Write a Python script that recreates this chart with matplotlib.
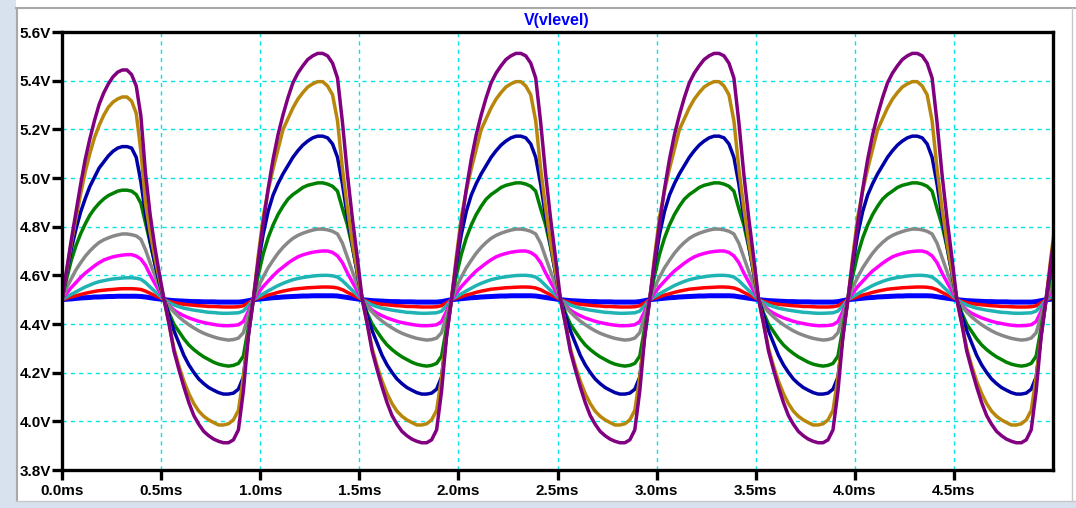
import numpy as np
import matplotlib
matplotlib.use("Agg")
import matplotlib.pyplot as plt
from matplotlib.patches import Rectangle
from matplotlib.lines import Line2D

# first positive half-cycle, 0 .. 0.515 ms (23 samples)
# steady-state cycle, 40 samples at 0.025 ms, starting at the rising crossing
purple_first = [4.500, 4.623, 4.745, 4.859, 4.972, 5.076, 5.161, 5.236, 5.302, 5.350, 5.387, 5.416,
                5.435, 5.444, 5.444, 5.425, 5.378, 5.255, 5.019, 4.849, 4.717, 4.604, 4.500]
purple_cycle = [4.500, 4.662, 4.814, 4.955, 5.077, 5.178, 5.259, 5.330, 5.391, 5.431, 5.461, 5.487,
                5.502, 5.512, 5.512, 5.502, 5.472, 5.411, 5.229, 5.016, 4.834, 4.672,
                4.500, 4.400, 4.288, 4.212, 4.141, 4.077, 4.024, 3.988, 3.959, 3.941, 3.927, 3.918,
                3.912, 3.912, 3.924, 3.965, 4.124, 4.347]

gold_first = [4.500, 4.617, 4.733, 4.833, 4.933, 5.025, 5.100, 5.166, 5.216, 5.258, 5.291, 5.312,
              5.325, 5.333, 5.333, 5.316, 5.266, 5.110, 4.895, 4.775, 4.675, 4.583, 4.500]
gold_cycle = [4.500, 4.679, 4.840, 4.948, 5.038, 5.118, 5.199, 5.244, 5.288, 5.324, 5.351, 5.374,
              5.387, 5.396, 5.396, 5.378, 5.342, 5.235, 5.038, 4.876, 4.733, 4.616,
              4.500, 4.402, 4.299, 4.227, 4.165, 4.114, 4.073, 4.042, 4.021, 4.006, 3.995, 3.985,
              3.985, 3.990, 4.006, 4.045, 4.181, 4.356]

navy_first = [4.500, 4.607, 4.708, 4.789, 4.859, 4.915, 4.965, 5.003, 5.041, 5.066, 5.091, 5.110,
              5.123, 5.129, 5.129, 5.123, 5.085, 4.985, 4.850, 4.739, 4.651, 4.569, 4.500]
navy_cycle = [4.500, 4.648, 4.769, 4.863, 4.930, 4.977, 5.017, 5.051, 5.085, 5.112, 5.135, 5.152,
              5.165, 5.172, 5.172, 5.165, 5.140, 5.085, 4.975, 4.840, 4.722, 4.608,
              4.500, 4.434, 4.372, 4.322, 4.271, 4.232, 4.201, 4.174, 4.155, 4.139, 4.128, 4.118,
              4.112, 4.112, 4.116, 4.132, 4.182, 4.353]

green_first = [4.500, 4.586, 4.662, 4.721, 4.770, 4.811, 4.847, 4.874, 4.896, 4.914, 4.928, 4.937,
               4.946, 4.950, 4.950, 4.946, 4.932, 4.896, 4.815, 4.734, 4.649, 4.568, 4.500]
green_cycle = [4.500, 4.601, 4.687, 4.754, 4.807, 4.850, 4.884, 4.913, 4.932, 4.946, 4.961, 4.970,
               4.975, 4.980, 4.980, 4.975, 4.966, 4.946, 4.874, 4.807, 4.716, 4.610,
               4.500, 4.445, 4.399, 4.369, 4.339, 4.314, 4.295, 4.279, 4.265, 4.254, 4.243, 4.235,
               4.230, 4.227, 4.230, 4.238, 4.268, 4.383]

gray_first = [4.500, 4.549, 4.586, 4.622, 4.651, 4.678, 4.700, 4.719, 4.735, 4.746, 4.754, 4.761,
              4.766, 4.770, 4.770, 4.767, 4.762, 4.748, 4.705, 4.651, 4.600, 4.549, 4.500]
gray_cycle = [4.500, 4.552, 4.593, 4.631, 4.662, 4.691, 4.715, 4.735, 4.752, 4.764, 4.773, 4.780,
              4.786, 4.790, 4.790, 4.787, 4.781, 4.770, 4.732, 4.674, 4.616, 4.558,
              4.500, 4.473, 4.449, 4.429, 4.412, 4.397, 4.384, 4.372, 4.362, 4.354, 4.347, 4.341,
              4.337, 4.334, 4.336, 4.342, 4.364, 4.434]

magenta_first = [4.500, 4.526, 4.550, 4.570, 4.591, 4.609, 4.624, 4.639, 4.652, 4.663, 4.670, 4.676,
                 4.680, 4.683, 4.685, 4.685, 4.679, 4.667, 4.641, 4.602, 4.567, 4.533, 4.500]
magenta_cycle = [4.500, 4.528, 4.554, 4.576, 4.598, 4.618, 4.634, 4.650, 4.664, 4.676, 4.684, 4.690,
                 4.695, 4.698, 4.700, 4.700, 4.694, 4.680, 4.652, 4.610, 4.572, 4.536,
                 4.500, 4.476, 4.457, 4.444, 4.434, 4.425, 4.418, 4.411, 4.406, 4.402, 4.398, 4.395,
                 4.393, 4.393, 4.394, 4.397, 4.410, 4.452]

teal_first = [4.500, 4.511, 4.522, 4.532, 4.542, 4.552, 4.560, 4.568, 4.574, 4.578, 4.582, 4.585,
              4.587, 4.589, 4.590, 4.590, 4.588, 4.584, 4.570, 4.552, 4.534, 4.517, 4.500]
teal_cycle = [4.500, 4.512, 4.524, 4.536, 4.547, 4.558, 4.567, 4.575, 4.582, 4.587, 4.591, 4.594,
              4.597, 4.599, 4.600, 4.600, 4.598, 4.593, 4.578, 4.558, 4.538, 4.519,
              4.500, 4.488, 4.478, 4.471, 4.465, 4.461, 4.457, 4.454, 4.451, 4.448, 4.447, 4.445,
              4.444, 4.444, 4.445, 4.446, 4.453, 4.475]

red_first = [4.500, 4.505, 4.511, 4.516, 4.521, 4.526, 4.530, 4.534, 4.537, 4.539, 4.541, 4.542,
             4.544, 4.545, 4.545, 4.545, 4.544, 4.542, 4.535, 4.526, 4.517, 4.509, 4.500]
red_cycle = [4.500, 4.506, 4.512, 4.519, 4.524, 4.530, 4.535, 4.539, 4.543, 4.545, 4.547, 4.549,
             4.550, 4.551, 4.552, 4.552, 4.551, 4.548, 4.541, 4.530, 4.520, 4.510,
             4.500, 4.493, 4.488, 4.484, 4.481, 4.479, 4.477, 4.475, 4.474, 4.472, 4.472, 4.471,
             4.470, 4.470, 4.470, 4.471, 4.475, 4.487]

blue_first = [4.500, 4.502, 4.503, 4.505, 4.507, 4.508, 4.509, 4.511, 4.511, 4.512, 4.513, 4.513,
              4.514, 4.514, 4.514, 4.514, 4.514, 4.513, 4.511, 4.508, 4.505, 4.503, 4.500]
blue_cycle = [4.500, 4.502, 4.504, 4.506, 4.508, 4.509, 4.511, 4.512, 4.513, 4.514, 4.515, 4.515,
              4.516, 4.516, 4.516, 4.516, 4.516, 4.515, 4.512, 4.509, 4.506, 4.503,
              4.500, 4.498, 4.496, 4.495, 4.494, 4.493, 4.492, 4.492, 4.491, 4.491, 4.491, 4.490,
              4.490, 4.490, 4.490, 4.490, 4.492, 4.496]

traces = [
    ("#0000ff", blue_first, blue_cycle, 3.6),
    ("#ff0000", red_first, red_cycle, 2.5),
    ("#1fb3b3", teal_first, teal_cycle, 2.5),
    ("#ff00ff", magenta_first, magenta_cycle, 2.5),
    ("#888888", gray_first, gray_cycle, 2.5),
    ("#008000", green_first, green_cycle, 2.5),
    ("#0000a8", navy_first, navy_cycle, 2.5),
    ("#b8860b", gold_first, gold_cycle, 2.5),
    ("#800080", purple_first, purple_cycle, 2.5),
]

t_first = np.linspace(0, 0.515, 23)
tau = np.arange(40) * 0.025
t_start = -0.035   # rising crossings at 0.965 + k ms
half = 22          # falling crossing inside the cycle

W, H = 1076, 508
fig = plt.figure(figsize=(W / 100, H / 100), dpi=100, facecolor="white")

# window chrome
fig.patches.append(Rectangle((0, 0), 16 / W, 1, transform=fig.transFigure, facecolor="#d7e2ee", edgecolor="none"))
fig.patches.append(Rectangle((0, 0), 1, 7 / H, transform=fig.transFigure, facecolor="#d7e2ee", edgecolor="none"))
fig.lines.append(Line2D([16.5 / W, 16.5 / W], [7 / H, 1 - 8 / H], transform=fig.transFigure, color="#a8a8a8", lw=1.5))
fig.lines.append(Line2D([16 / W, 1], [1 - 8 / H, 1 - 8 / H], transform=fig.transFigure, color="#a8a8a8", lw=1.5))
fig.lines.append(Line2D([1072 / W, 1072 / W], [7 / H, 1 - 8 / H], transform=fig.transFigure, color="#c8c8c8", lw=1))
fig.lines.append(Line2D([16 / W, 1], [7.5 / H, 7.5 / H], transform=fig.transFigure, color="#c8c8c8", lw=1))

ax = fig.add_axes([62 / W, 1 - 470 / H, (1053 - 62) / W, (470 - 32) / H])

for color, first, cycle, lw in traces:
    t = [t_first, t_start + tau[half:]]
    v = [np.array(first), np.array(cycle[half:])]
    for k in range(1, 6):
        t.append(t_start + k + tau)
        v.append(np.array(cycle))
    ax.plot(np.concatenate(t), np.concatenate(v), color=color, lw=lw,
            solid_joinstyle="round", solid_capstyle="round")

ax.set_xlim(0, 5.0)
ax.set_ylim(3.8, 5.6)
xt = np.arange(0, 5.0, 0.5)
yt = np.arange(3.8, 5.61, 0.2)
ax.set_xticks(xt)
ax.set_xticklabels([f"{x:.1f}ms" for x in xt])
ax.set_yticks(yt)
ax.set_yticklabels([f"{y:.1f}V" for y in yt])
ax.grid(True, color="#00e5e5", ls=(0, (3, 3)), lw=1)
ax.set_axisbelow(True)
for s in ax.spines.values():
    s.set_linewidth(2.4)
    s.set_color("black")
ax.tick_params(direction="out", length=7, width=2.4, pad=1, labelsize=11, colors="black")
for lab in ax.get_xticklabels() + ax.get_yticklabels():
    lab.set_fontfamily("Liberation Sans")
    lab.set_fontweight("bold")
ax.tick_params(axis="x", pad=3)

fig.text(557 / W, 1 - 20 / H, "V(vlevel)", color="#0000ff", fontsize=11.5, fontweight="bold",
         family="Liberation Sans", ha="center", va="center")

fig.savefig("out.png", dpi=100, facecolor="white")
